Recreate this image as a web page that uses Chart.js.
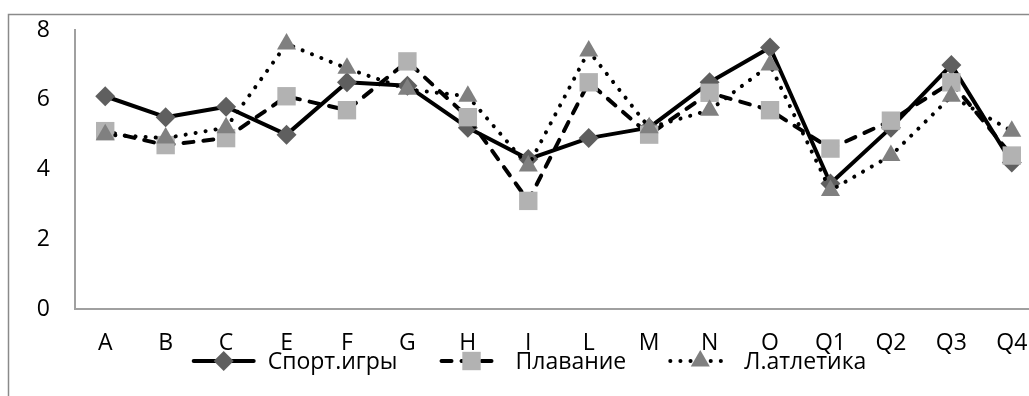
<!DOCTYPE html>
<html><head><meta charset="utf-8">
<script src="https://cdn.jsdelivr.net/npm/chart.js@4/dist/chart.umd.min.js"></script>
<style>html,body{margin:0;padding:0;background:#fff;overflow:hidden;} #wrap{width:1060px;height:396px;}</style>
</head><body><div id="wrap"><canvas id="c" width="1060" height="396"></canvas></div>
<script>
const categories = ['A','B','C','E','F','G','H','I','L','M','N','O','Q1','Q2','Q3','Q4'];
const sportGames = [6.1,5.5,5.8,5.0,6.5,6.4,5.2,4.3,4.9,5.2,6.5,7.5,3.6,5.2,7.0,4.2];
const swimming   = [5.1,4.7,4.9,6.1,5.7,7.1,5.5,3.1,6.5,5.0,6.2,5.7,4.6,5.4,6.5,4.4];
const athletics  = [5.0,4.9,5.2,7.6,6.9,6.3,6.1,4.1,7.4,5.2,5.7,7.0,3.4,4.4,6.1,5.1];
const seriesNames = ['Спорт.игры','Плавание','Л.атлетика'];
const yTicks = [0,2,4,6,8];

const FONT = '"Open Sans", "Noto Sans", sans-serif';
const FSIZE = 23;

function drawMarker(ctx, style, r, x, y){
  ctx.beginPath();
  if (style === 'rectRot'){
    ctx.moveTo(x, y - r); ctx.lineTo(x + r, y); ctx.lineTo(x, y + r); ctx.lineTo(x - r, y);
  } else if (style === 'rect'){
    const s = r * Math.SQRT1_2;
    ctx.rect(x - s, y - s, 2 * s, 2 * s);
  } else if (style === 'triangle'){
    ctx.moveTo(x, y - r);
    ctx.lineTo(x + r * Math.sin(2*Math.PI/3), y + r * 0.5);
    ctx.lineTo(x - r * Math.sin(2*Math.PI/3), y + r * 0.5);
  }
  ctx.closePath();
  ctx.fill();
}

const framePlugin = {
  id: 'frame',
  beforeDraw(chart){
    const ctx = chart.ctx;
    ctx.save();
    ctx.fillStyle = '#fff';
    ctx.fillRect(0, 0, chart.width, chart.height);
    ctx.strokeStyle = '#8a8a8a';
    ctx.lineWidth = 1.5;
    ctx.beginPath();
    ctx.moveTo(8.5, chart.height + 5);
    ctx.lineTo(8.5, 14.5);
    ctx.lineTo(chart.width + 5, 14.5);
    ctx.stroke();
    ctx.restore();
  }
};

const legendPlugin = {
  id: 'customLegend',
  afterDraw(chart){
    const ctx = chart.ctx;
    ctx.save();
    ctx.font = FSIZE + 'px ' + FONT;
    const sample = 64, gap = 12, itemGap = 42;
    const items = chart.data.datasets.map(ds => ({ds, w: ctx.measureText(ds.label).width}));
    const total = items.reduce((s, it) => s + sample + gap + it.w, 0) + itemGap * (items.length - 1);
    let x = 529 - total / 2;
    const y = 361;
    items.forEach(it => {
      const ds = it.ds;
      ctx.beginPath();
      ctx.setLineDash(ds.borderDash || []);
      ctx.lineCap = 'round';
      ctx.lineWidth = ds.borderWidth;
      ctx.strokeStyle = ds.borderColor;
      ctx.moveTo(x + 2, y); ctx.lineTo(x + sample - 2, y);
      ctx.stroke();
      ctx.setLineDash([]);
      ctx.fillStyle = ds.pointBackgroundColor;
      drawMarker(ctx, ds.pointStyle, ds.pointRadius, x + sample / 2, y);
      ctx.fillStyle = '#000';
      ctx.textBaseline = 'middle';
      ctx.textAlign = 'left';
      ctx.fillText(ds.label, x + sample + gap, y + 1);
      x += sample + gap + it.w + itemGap;
    });
    ctx.restore();
  }
};

new Chart(document.getElementById('c'), {
  type: 'line',
  data: {
    labels: categories,
    datasets: [
      { label: seriesNames[0], data: sportGames, order: 3,
        borderColor: '#000', borderWidth: 4, borderCapStyle: 'round', borderJoinStyle: 'round',
        pointStyle: 'rectRot', pointRadius: 10, pointBackgroundColor: '#5f5f5f', pointBorderColor: '#5f5f5f', pointBorderWidth: 0 },
      { label: seriesNames[1], data: swimming, order: 2,
        borderColor: '#000', borderWidth: 4, borderDash: [10, 10], borderCapStyle: 'round', borderJoinStyle: 'round',
        pointStyle: 'rect', pointRadius: 13, pointBackgroundColor: '#b2b2b2', pointBorderColor: '#b2b2b2', pointBorderWidth: 0 },
      { label: seriesNames[2], data: athletics, order: 1,
        borderColor: '#000', borderWidth: 4, borderDash: [0.1, 10], borderCapStyle: 'round', borderJoinStyle: 'round',
        pointStyle: 'triangle', pointRadius: 11, pointBackgroundColor: '#808080', pointBorderColor: '#808080', pointBorderWidth: 0 }
    ]
  },
  options: {
    responsive: false,
    animation: false,
    layout: { padding: { top: 30, right: 18, bottom: 0, left: 0 } },
    plugins: { legend: { display: false }, tooltip: { enabled: false } },
    elements: { line: { tension: 0 } },
    scales: {
      x: {
        type: 'category', offset: true,
        grid: { display: false, drawTicks: false },
        border: { display: true, color: '#a0a0a0', width: 2 },
        ticks: { color: '#000', font: { family: FONT, size: FSIZE }, padding: 21, maxRotation: 0, autoSkip: false },
        afterFit(s){ s.height = 87; s.paddingLeft = 0; s.paddingRight = 0; }
      },
      y: {
        min: 0, max: 8,
        afterBuildTicks(s){ s.ticks = yTicks.map(v => ({ value: v })); },
        grid: { display: false, drawTicks: false },
        border: { display: true, color: '#a0a0a0', width: 2 },
        ticks: { color: '#000', font: { family: FONT, size: FSIZE }, padding: 25 },
        afterFit(s){ s.width = 75; s.paddingTop = 0; s.paddingBottom = 0; }
      }
    }
  },
  plugins: [framePlugin, legendPlugin]
});
</script>
</body></html>
